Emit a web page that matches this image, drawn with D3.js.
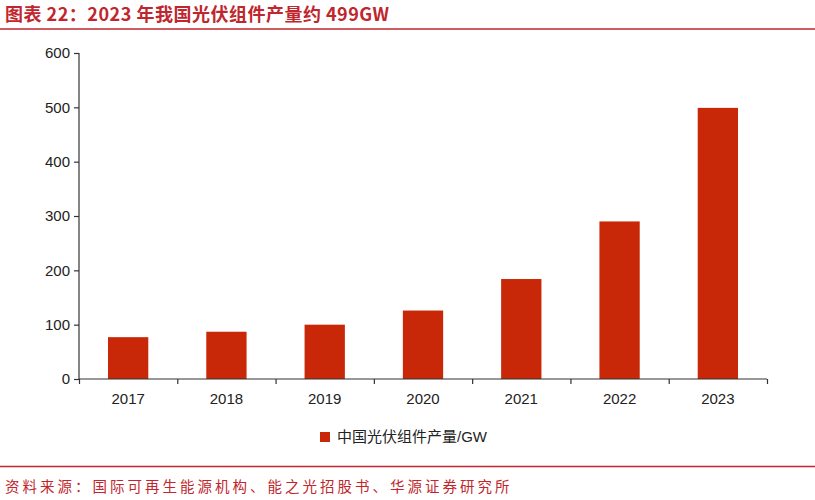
<!DOCTYPE html>
<html>
<head>
<meta charset="utf-8">
<script src="https://cdn.jsdelivr.net/npm/d3@7"></script>
<style>
  body { margin: 0; background: #fff; }
  svg { display: block; }
</style>
</head>
<body>
<script>
// dati
const anni = ["2017", "2018", "2019", "2020", "2021", "2022", "2023"];
const produzione = [77, 87, 100, 126, 184, 290, 499];
const tickY = [0, 100, 200, 300, 400, 500, 600];
const titolo = "图表 22：2023 年我国光伏组件产量约 499GW";
const nomeSerie = "中国光伏组件产量/GW";
const fonte = "资料来源：国际可再生能源机构、能之光招股书、华源证券研究所";

const W = 815, H = 500;
const rosso = "#c82807";
const rossoTitolo = "#c0262d";

const svg = d3.select("body").append("svg")
    .attr("width", W)
    .attr("height", H);

// titolo e linee
svg.append("text")
    .attr("x", 5).attr("y", 21)
    .attr("fill", rossoTitolo)
    .style("font-family", "'Noto Sans CJK SC'")
    .style("font-weight", "bold")
    .style("font-size", "18px")
    .style("letter-spacing", "0.5px")
    .text(titolo);

svg.append("line")
    .attr("x1", 0).attr("x2", W)
    .attr("y1", 29).attr("y2", 29)
    .attr("stroke", rossoTitolo).attr("stroke-width", 1.5);

svg.append("line")
    .attr("x1", 0).attr("x2", W)
    .attr("y1", 466.5).attr("y2", 466.5)
    .attr("stroke", rossoTitolo).attr("stroke-width", 1.5);

svg.append("text")
    .attr("x", 5).attr("y", 492)
    .attr("fill", rossoTitolo)
    .style("font-family", "'Noto Sans CJK SC'")
    .style("font-size", "14.5px")
    .style("letter-spacing", "3px")
    .text(fonte);

// scale
const x = d3.scaleBand()
    .domain(anni)
    .range([79, 767])
    .paddingInner(0.59)
    .paddingOuter(0.295);

const y = d3.scaleLinear()
    .domain([0, 600])
    .range([379, 53]);

// barre
svg.selectAll(".barra")
    .data(produzione)
    .enter()
    .append("rect")
    .attr("class", "barra")
    .attr("x", (d, i) => x(anni[i]))
    .attr("y", d => y(d))
    .attr("width", x.bandwidth())
    .attr("height", d => y(0) - y(d))
    .attr("fill", rosso);

// asse y
const asseY = d3.axisLeft(y)
    .tickValues(tickY)
    .tickSize(5)
    .tickPadding(4);

const gY = svg.append("g")
    .attr("transform", "translate(79,0)")
    .call(asseY);

// asse x
const xTick = d3.scaleLinear().domain([0, anni.length]).range([79, 767]);
const gX = svg.append("g")
    .attr("transform", `translate(0,${y(0)})`)
    .call(d3.axisBottom(xTick).tickValues(d3.range(anni.length + 1)).tickSize(5).tickFormat(""));

svg.selectAll(".etichetta")
    .data(anni)
    .enter()
    .append("text")
    .attr("class", "etichetta")
    .attr("x", d => x(d) + x.bandwidth() / 2)
    .attr("y", 404)
    .attr("text-anchor", "middle")
    .attr("fill", "#222")
    .style("font-family", "'Liberation Sans', Arial")
    .style("font-size", "15px")
    .text(d => d);

[gX, gY].forEach(g => {
    g.select(".domain").attr("stroke", "#333").attr("stroke-width", 1.2);
    g.selectAll(".tick line").attr("stroke", "#333").attr("stroke-width", 1.2);
    g.selectAll(".tick text")
        .attr("fill", "#222")
        .style("font-family", "'Liberation Sans', Arial")
        .style("font-size", "15px");
});
gX.select(".domain").attr("d", `M79,0H767`);
gY.select(".domain").attr("d", `M0,${y(600)}V${y(0)}`);

// legenda
svg.append("rect")
    .attr("x", 320).attr("y", 432)
    .attr("width", 10).attr("height", 10)
    .attr("fill", rosso);

svg.append("text")
    .attr("x", 337).attr("y", 442)
    .attr("fill", "#222")
    .style("font-family", "'Liberation Sans', 'Noto Sans CJK SC'")
    .style("font-size", "15px")
    .text(nomeSerie);
</script>
</body>
</html>
